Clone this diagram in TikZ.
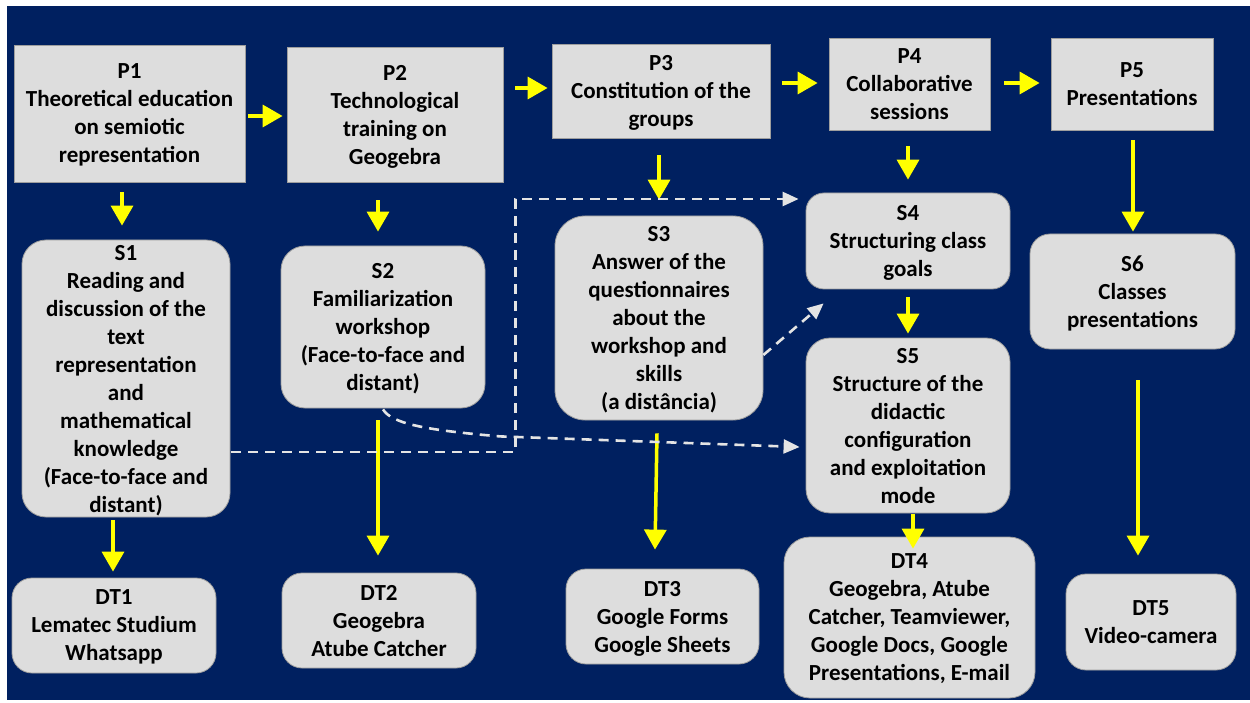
\documentclass[tikz,border=0pt]{standalone}
\usepackage{fontspec}
\setmainfont{Carlito}
\usetikzlibrary{arrows.meta,calc}
\definecolor{navy}{HTML}{002060}
\definecolor{boxfill}{HTML}{DDDDDD}
\definecolor{boxline}{HTML}{9E9E9E}
\definecolor{dashwhite}{HTML}{E4E4E4}
\definecolor{arrowyellow}{HTML}{FFFF00}

\tikzset{
  base/.style={draw=boxline, line width=0.8pt, fill=boxfill, align=center,
    inner sep=2pt, font=\bfseries\fontsize{23}{28}\selectfont, text depth=-3pt},
  phase/.style={base, rectangle},
  stage/.style={base, rounded corners=24pt},
  tool/.style={base, rounded corners=20pt},
  ya/.style={draw=arrowyellow, fill=arrowyellow, line width=3.5pt,
    -{Triangle[length=20pt,width=22pt]}},
  wd/.style={draw=dashwhite, line width=2.6pt, dash pattern=on 10pt off 7pt,
    -{Triangle[length=16pt,width=14pt,fill=dashwhite]}},
}

\begin{document}
\begin{tikzpicture}[x=1pt,y=-1pt]
\useasboundingbox (0,0) rectangle (1250,703);
\fill[white] (0,0) rectangle (1250,703);
\fill[navy] (7,6) rectangle (1250,700);

% phases
\node[phase, minimum width=231, minimum height=137] (P1) at (129.5,113.5)
  {P1\\Theoretical education\\on semiotic\\representation};
\node[phase, minimum width=216, minimum height=135] (P2) at (395,114.5)
  {P2\\Technological\\training on\\Geogebra};
\node[phase, minimum width=218, minimum height=94] (P3) at (661,91)
  {P3\\Constitution of the\\groups};
\node[phase, minimum width=161, minimum height=92] (P4) at (909.5,84)
  {P4\\Collaborative\\sessions};
\node[phase, minimum width=162, minimum height=92] (P5) at (1132,84)
  {P5\\Presentations};

% stages
\node[stage, minimum width=208, minimum height=277] (S1) at (126,378.5)
  {S1\\Reading and\\discussion of the\\text\\representation\\and\\mathematical\\knowledge\\(Face-to-face and\\distant)};
\node[stage, minimum width=204, minimum height=162] (S2) at (383,327)
  {S2\\Familiarization\\workshop\\(Face-to-face and\\distant)};
\node[stage, minimum width=208, minimum height=204, rounded corners=30pt] (S3) at (659,318)
  {S3\\Answer of the\\questionnaires\\about the\\workshop and\\skills\\(a distância)};
\node[stage, minimum width=204, minimum height=96, rounded corners=18pt] (S4) at (908,241)
  {S4\\Structuring class\\goals};
\node[stage, minimum width=204, minimum height=175] (S5) at (908,425.5)
  {S5\\Structure of the\\didactic\\configuration\\and exploitation\\mode};
\node[stage, minimum width=205, minimum height=115, rounded corners=20pt] (S6) at (1132.5,291.5)
  {S6\\Classes\\presentations};

% tools
\node[tool, minimum width=204, minimum height=95] (DT1) at (114,625.5)
  {DT1\\Lematec Studium\\Whatsapp};
\node[tool, minimum width=194, minimum height=95] (DT2) at (379,620.5)
  {DT2\\Geogebra\\Atube Catcher};
\node[tool, minimum width=193, minimum height=95] (DT3) at (662.5,616.5)
  {DT3\\Google Forms\\Google Sheets};
\node[tool, minimum width=251, minimum height=161, rounded corners=26pt] (DT4) at (909.5,617.5)
  {DT4\\Geogebra, Atube\\Catcher, Teamviewer,\\Google Docs, Google\\Presentations, E-mail};
\node[tool, minimum width=170, minimum height=96] (DT5) at (1151,622)
  {DT5\\Video-camera};

% sequence of phases
\draw[ya] ($(P1.east)+(3,2.5)$) -- ($(P2.west)+(-4,1.5)$);
\draw[ya] ($(P2.east)+(12,-26.5)$) -- ($(P3.west)+(-4,-3)$);
\draw[ya] ($(P3.east)+(12,-8)$) -- ($(P4.west)+(-11,-1)$);
\draw[ya] ($(P4.east)+(14,-1)$) -- ($(P5.west)+(-11,-1)$);

% phases to stages
\draw[ya] ($(P1.south)+(-7.5,10)$) -- ($(S1.north)+(-4,-14)$);
\draw[ya] ($(P2.south)+(-17,18)$) -- ($(S2.north)+(-5,-14)$);
\draw[ya] ($(P3.south)+(-2,17)$) -- ($(S3.north)+(0,-16)$);
\draw[ya] ($(P4.south)+(-1.5,16)$) -- ($(S4.north)+(0,-13)$);
\draw[ya] ($(S4.south)+(0,8)$) -- ($(S5.north)+(0,-4)$);
\draw[ya] ($(P5.south)+(1,10)$) -- ($(S6.north)+(0.5,-2)$);

% stages to tools
\draw[ya] ($(S1.south)+(-13,3)$) -- ($(DT1.north)+(-1,-6)$);
\draw[ya] ($(S2.south)+(-5,12)$) -- ($(DT2.north)+(-1,-17)$);
\draw[ya] ($(S3.south)+(-2,13)$) -- ($(DT3.north)+(-7.5,-19)$);
\draw[ya] ($(S5.south)+(5,1)$) -- ($(DT4.north)+(3.5,12)$);
\draw[ya] ($(S6.south)+(5.5,31)$) -- ($(DT5.north)+(-13,-18)$);

% dashed links
\draw[wd] ($(S1.east)+(1,73.5)$) -- ++(284,0) |- ($(S4.west)+(-7,-42)$);
\draw[wd] ($(S2.south)+(0,1)$) .. controls ($(S2.south)+(9,16)$) and ($(S2.south)+(47,22)$)
  .. ($(S2.south)+(117,28)$) -- ($(S5.west)+(-6,21.5)$);
\draw[wd] ($(S3.east)+(0,37)$) -- ($(S4.south west)+(18,14)$);
\end{tikzpicture}
\end{document}
